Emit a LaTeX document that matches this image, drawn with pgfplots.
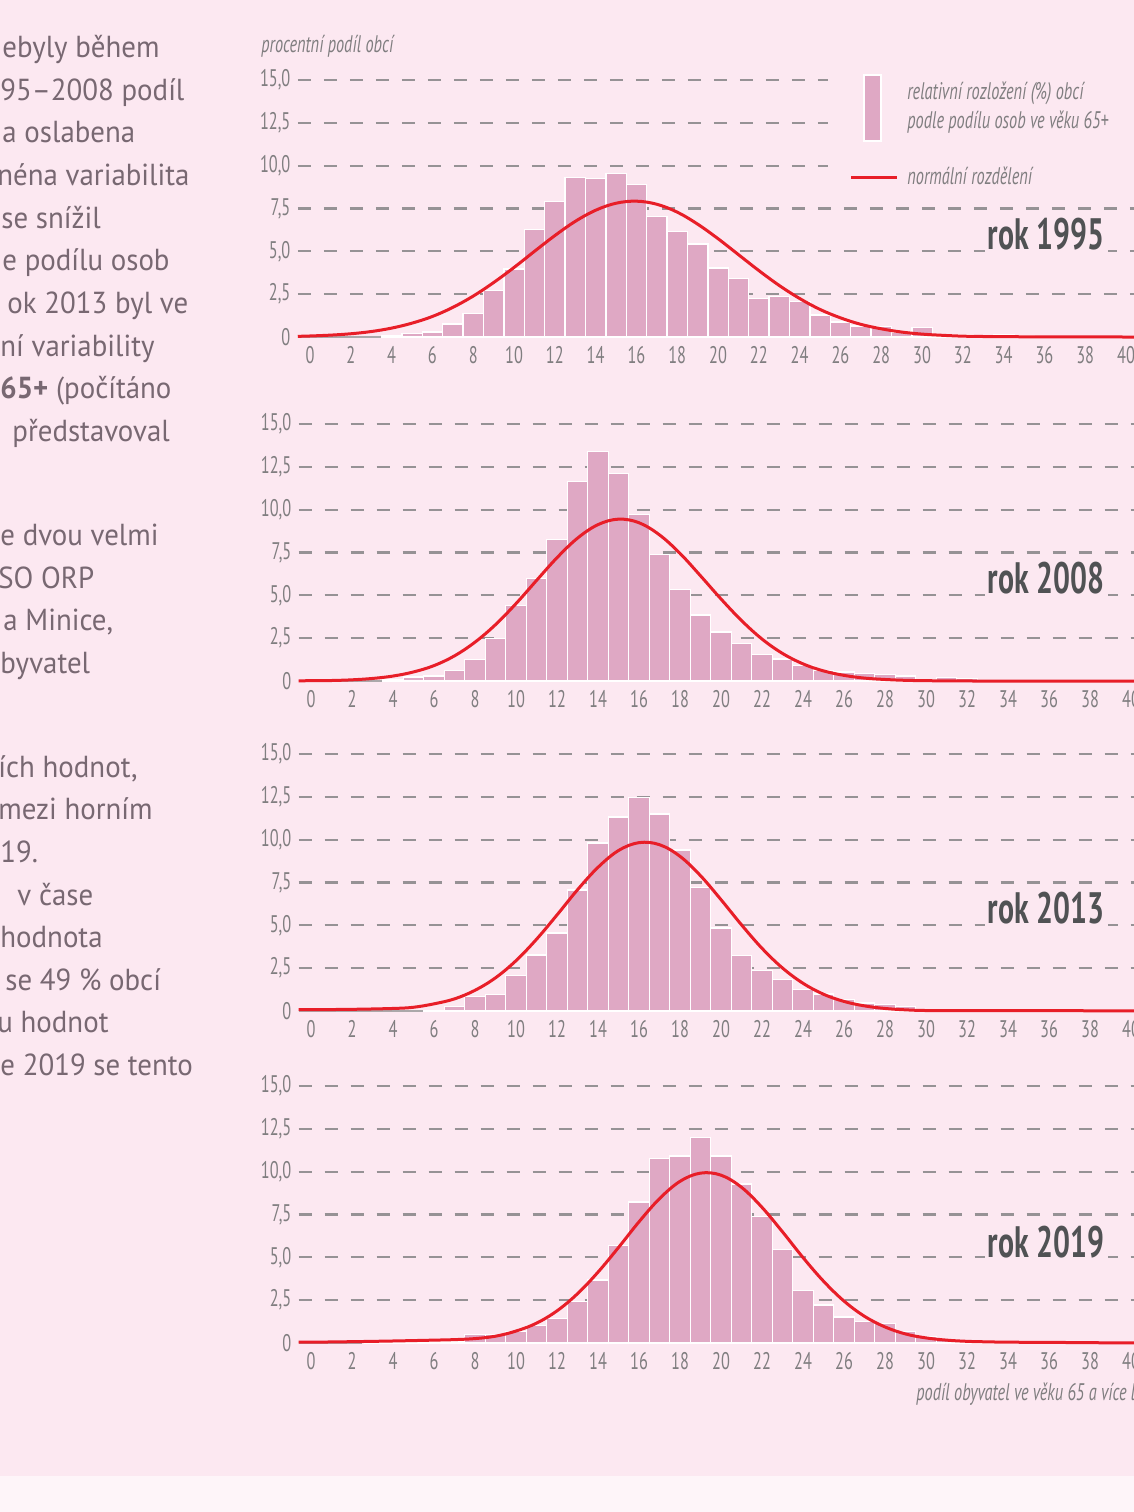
\documentclass[border=0pt]{standalone}
\usepackage{pgfplots}
\pgfplotsset{compat=1.18}
\usepackage{fontspec}
\setmainfont{PT Sans}[FakeStretch=0.95]
\newfontfamily\condf[FakeStretch=0.68]{PT Sans}
\definecolor{bg}{RGB}{252,232,241}
\definecolor{bgl}{RGB}{254,245,249}
\definecolor{barc}{RGB}{223,168,196}
\definecolor{redc}{RGB}{232,30,40}
\definecolor{gridc}{RGB}{150,146,149}
\definecolor{tickc}{RGB}{128,126,128}
\definecolor{rokc}{RGB}{80,82,84}
\definecolor{txtc}{RGB}{120,104,114}
\tikzset{basel/.style={gridc!80, line width=0.6bp}}
\pgfplotsset{
  panel/.style={
    scale only axis, axis line style={draw=none},
    y=8.565bp, ymin=-0.5, ymax=15.5, xmin=-0.6,
    xtick={0,2,...,40}, ytick={0,2.5,5,7.5,10,12.5,15},
    yticklabels={0,{2,5},{5,0},{7,5},{10,0},{12,5},{15,0}},
    tick style={draw=none}, major tick length=0pt,
    ymajorgrids,
    major grid style={gridc, line width=1.1bp, dash pattern=on 6.5bp off 6.5bp},
    ticklabel style={font=\condf\fontsize{12bp}{14bp}\selectfont, text=tickc},
    xticklabel style={anchor=north, inner sep=0pt, yshift=0bp},
    yticklabel style={anchor=east, inner sep=0pt, xshift=-3.5bp},
    /pgf/number format/assume math mode=true,
    clip=false, anchor=south west,
  },
  bars/.style={ybar, bar width=1, fill=barc, draw=white, line width=0.7bp},
  curve/.style={redc, line width=1.5bp, smooth, tension=0.6},
}
\newcommand{\lt}[3]{\node[anchor=base west, inner sep=0pt, text=txtc, font=\fontsize{15.2bp}{18bp}\selectfont] at (#1,#2+10) {#3};}
\begin{document}
\begin{tikzpicture}
\begin{scope}[x=0.5bp,y=-0.5bp]
\fill[bg] (0,0) rectangle (1134,1512);
\fill[bgl] (0,1476) rectangle (1134,1512);
\lt{2}{47}{ebyly během}
\lt{0}{90}{95–2008 podíl}
\lt{2}{132}{a oslabena}
\lt{-3}{175}{néna variabilita}
\lt{1}{218}{se snížil}
\lt{2}{260}{e podílu osob}
\lt{7}{303}{ok 2013 byl ve}
\lt{0}{346}{ní variability}
\lt{0}{388}{\textbf{65+} (počítáno}
\lt{12}{431}{představoval}
\lt{0}{535}{e dvou velmi}
\lt{-2}{578}{SO ORP}
\lt{3}{620}{a Minice,}
\lt{0}{663}{byvatel}
\lt{-2}{767}{ích hodnot,}
\lt{-2}{809}{mezi horním}
\lt{0}{852}{19.}
\lt{17}{895}{v čase}
\lt{0}{937}{hodnota}
\lt{5}{980}{se 49 \% obcí}
\lt{-3}{1022}{u hodnot}
\lt{0}{1065}{e 2019 se tento}
\node[anchor=west, inner sep=0pt, text=tickc, font=\condf\itshape\fontsize{12bp}{14bp}\selectfont] at (261,46) {procentní podíl obcí};
\end{scope}

% ---- 1995
\begin{axis}[panel, at={(148.88bp,-172.785bp)}, x=10.2bp, xmax=40.39]
\draw[basel] (axis cs:-0.6,0) -- (axis cs:40.39,0);
\addplot[bars] coordinates {(4,0.1)(5,0.2)(6,0.3)(7,0.76)(8,1.39)(9,2.73)(10,3.98)(11,6.27)(12,7.91)(13,9.32)(14,9.26)(15,9.53)(16,8.9)(17,7.05)(18,6.17)(19,5.42)(20,4.02)(21,3.42)(22,2.25)(23,2.38)(24,2.07)(25,1.29)(26,0.88)(27,0.65)(28,0.6)(29,0.26)(30,0.56)(31,0.12)(32,0.14)(33,0.1)(34,0.16)(35,0.06)(36,0.04)(37,0.02)(38,0.02)};
\addplot[curve] coordinates {(-0.6,0.04)(0,0.06)(1,0.11)(2,0.19)(3,0.32)(4,0.52)(5,0.81)(6,1.2)(7,1.73)(8,2.39)(9,3.18)(10,4.06)(11,5.0)(12,5.92)(13,6.75)(14,7.4)(15,7.81)(16,7.93)(17,7.75)(18,7.29)(19,6.59)(20,5.74)(21,4.81)(22,3.88)(23,3.01)(24,2.25)(25,1.61)(26,1.12)(27,0.74)(28,0.48)(29,0.29)(30,0.17)(31,0.1)(32,0.05)(33,0.03)(34,0.02)(36,0.01)(38,0.005)(40.39,0)};
\end{axis}

% ---- 2008
\begin{axis}[panel, at={(149.35bp,-344.78bp)}, x=10.25bp, xmax=40.15]
\draw[basel] (axis cs:-0.6,0) -- (axis cs:40.15,0);
\addplot[bars] coordinates {(4,0.05)(5,0.23)(6,0.29)(7,0.62)(8,1.27)(9,2.48)(10,4.4)(11,6.0)(12,8.27)(13,11.64)(14,13.41)(15,12.12)(16,9.73)(17,7.37)(18,5.34)(19,3.85)(20,2.86)(21,2.18)(22,1.56)(23,1.28)(24,0.9)(25,0.62)(26,0.53)(27,0.45)(28,0.39)(29,0.29)(30,0.1)(31,0.21)(32,0.16)(33,0.03)(34,0.02)};
\addplot[curve] coordinates {(-0.6,0.01)(0,0.02)(1,0.03)(2,0.07)(3,0.15)(4,0.29)(5,0.53)(6,0.9)(7,1.47)(8,2.27)(9,3.29)(10,4.52)(11,5.87)(12,7.2)(13,8.34)(14,9.13)(15,9.45)(16,9.24)(17,8.53)(18,7.45)(19,6.14)(20,4.79)(21,3.53)(22,2.45)(23,1.61)(24,1.0)(25,0.59)(26,0.33)(27,0.17)(28,0.09)(29,0.04)(30,0.02)(31,0.01)(33,0)(40.15,0)};
\end{axis}

% ---- 2013
\begin{axis}[panel, at={(149.35bp,-509.78bp)}, x=10.25bp, xmax=40.15]
\draw[basel] (axis cs:-0.6,0) -- (axis cs:40.15,0);
\addplot[bars] coordinates {(6,0.04)(7,0.27)(8,0.84)(9,0.98)(10,2.08)(11,3.27)(12,4.55)(13,7.06)(14,9.8)(15,11.33)(16,12.45)(17,11.5)(18,9.41)(19,7.2)(20,4.85)(21,3.24)(22,2.37)(23,1.85)(24,1.27)(25,1.0)(26,0.69)(27,0.47)(28,0.37)(29,0.25)};
\addplot[curve] coordinates {(-0.6,0.08)(0,0.08)(2,0.1)(4,0.15)(5,0.22)(6,0.42)(7,0.71)(8,1.21)(9,1.94)(10,2.94)(11,4.19)(12,5.61)(13,7.08)(14,8.39)(15,9.37)(16,9.83)(17,9.71)(18,9.03)(19,7.9)(20,6.5)(21,5.03)(22,3.66)(23,2.51)(24,1.62)(25,0.98)(26,0.56)(27,0.3)(28,0.15)(29,0.07)(30,0.03)(32,0.02)(36,0.02)(40.15,0.01)};
\end{axis}

% ---- 2019
\begin{axis}[panel, at={(149.35bp,-675.78bp)}, x=10.25bp, xmax=40.15]
\draw[basel] (axis cs:-0.6,0) -- (axis cs:40.15,0);
\addplot[bars] coordinates {(3,0.03)(4,0.05)(5,0.05)(6,0.08)(7,0.1)(8,0.49)(9,0.49)(10,0.69)(11,1.02)(12,1.43)(13,2.41)(14,3.67)(15,5.69)(16,8.24)(17,10.76)(18,10.92)(19,12.0)(20,10.92)(21,9.28)(22,7.4)(23,5.45)(24,3.08)(25,2.23)(26,1.53)(27,1.25)(28,1.13)(29,0.66)(30,0.39)(31,0.19)(32,0.12)(33,0.05)(34,0.04)(35,0.03)};
\addplot[curve] coordinates {(-0.6,0.05)(0,0.05)(2,0.08)(4,0.12)(6,0.17)(7,0.2)(8,0.26)(9,0.4)(10,0.7)(11,1.16)(12,1.88)(13,2.88)(14,4.14)(15,5.58)(16,7.08)(17,8.43)(18,9.44)(19,9.92)(20,9.8)(21,9.09)(22,7.92)(23,6.49)(24,4.99)(25,3.61)(26,2.45)(27,1.56)(28,0.94)(29,0.53)(30,0.3)(31,0.17)(32,0.1)(33,0.07)(34,0.05)(36,0.04)(38,0.02)(40.15,0.01)};
\end{axis}

\begin{scope}[x=0.5bp,y=-0.5bp]
% legend
\fill[bg] (828,60) rectangle (1134,195);
\filldraw[fill=barc, draw=white, line width=0.6bp] (864,75) rectangle (881,141);
\draw[redc, line width=1.5bp] (851,177) -- (897,177);
\begin{scope}[every node/.style={anchor=west, inner sep=0pt, text=tickc, font=\condf\itshape\fontsize{12bp}{14bp}\selectfont}]
\node at (907,93) {relativní rozložení (\%) obcí};
\node at (907,122) {podle podílu osob ve věku 65+};
\node at (907,176) {normální rozdělení};
\node at (916,1394) {podíl obyvatel ve věku 65 a více let};
\end{scope}
\begin{scope}[every node/.style={anchor=base east, fill=bg, inner sep=1.5bp, text=rokc, font=\condf\bfseries\fontsize{22bp}{24bp}\selectfont}]
\node at (1108,249) {rok 1995};
\node at (1108,593) {rok 2008};
\node at (1108,923) {rok 2013};
\node at (1108,1257) {rok 2019};
\end{scope}
\pgfresetboundingbox
\path[use as bounding box] (0,0) rectangle (1134,1512);
\end{scope}
\end{tikzpicture}
\end{document}
